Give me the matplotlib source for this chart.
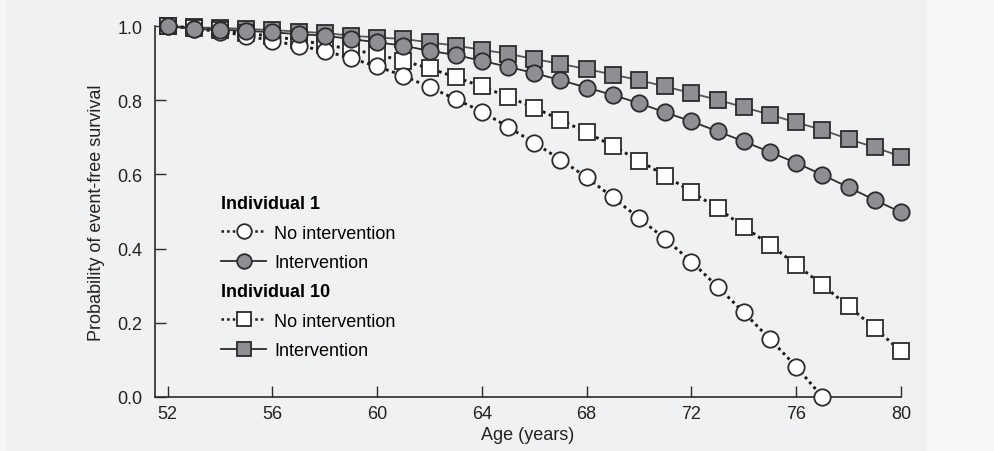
import matplotlib.pyplot as plt
from matplotlib.lines import Line2D
from matplotlib.patches import Rectangle

plt.rcParams['font.family'] = ['Liberation Sans', 'DejaVu Sans']

age = list(range(52, 81))

# Individual 1
ind1_none = [1.0, 0.993, 0.985, 0.974, 0.960, 0.947, 0.933, 0.913, 0.891, 0.866,
             0.835, 0.803, 0.769, 0.728, 0.685, 0.640, 0.592, 0.538, 0.482, 0.426,
             0.365, 0.297, 0.228, 0.156, 0.082, 0.0]
ind1_int = [1.0, 0.992, 0.990, 0.987, 0.983, 0.978, 0.974, 0.965, 0.956, 0.947,
            0.933, 0.922, 0.906, 0.890, 0.873, 0.854, 0.834, 0.814, 0.792, 0.767,
            0.743, 0.716, 0.689, 0.660, 0.631, 0.599, 0.565, 0.531, 0.498]
# Individual 10
ind10_none = [1.0, 0.995, 0.988, 0.981, 0.972, 0.962, 0.950, 0.937, 0.923, 0.906,
              0.886, 0.862, 0.837, 0.809, 0.780, 0.747, 0.713, 0.677, 0.637, 0.597,
              0.553, 0.509, 0.459, 0.410, 0.357, 0.302, 0.244, 0.186, 0.123]
ind10_int = [1.0, 0.996, 0.995, 0.992, 0.989, 0.985, 0.981, 0.974, 0.969, 0.965,
             0.956, 0.947, 0.936, 0.925, 0.911, 0.898, 0.884, 0.869, 0.854, 0.837,
             0.819, 0.801, 0.781, 0.761, 0.740, 0.720, 0.695, 0.673, 0.648]

xticks = [52, 56, 60, 64, 68, 72, 76, 80]
yticks = [0.0, 0.2, 0.4, 0.6, 0.8, 1.0]

outer = '#f6f6f7'
panel = '#f0f1f3'
grey = '#8e8f93'
edge = '#2b2b2b'
ms = 11.8

fig = plt.figure(figsize=(9.94, 4.52), dpi=100, facecolor=outer)
fig.patches.append(Rectangle((6 / 994, 0), 921 / 994, 1, transform=fig.transFigure,
                             facecolor=panel, edgecolor='none', zorder=-10))
ax = fig.add_axes([155 / 994, 1 - 398 / 452, 746 / 994, 371 / 452])
ax.set_facecolor('none')

dotted = (0, (1, 1.25))
none_style = dict(color='#1a1a1a', lw=2.1, linestyle=dotted, mfc='white',
                  mec=edge, mew=1.3, ms=ms)
int_style = dict(lw=1.3, linestyle='-', mfc=grey, mec=edge, mew=1.3, ms=ms)

ax.plot(age, ind10_int, marker='s', color='#555555', zorder=3, clip_on=False, **int_style)
ax.plot(age, ind10_none, marker='s', zorder=4, clip_on=False, **none_style)
ax.plot(age[:len(ind1_none)], ind1_none, marker='o', zorder=5, clip_on=False, **none_style)
ax.plot(age, ind1_int, marker='o', color='#2e2e2e', zorder=6, clip_on=False, **int_style)

ax.set_xlim(51.52, 80)
ax.set_ylim(0, 1.0)
ax.set_xticks(xticks)
ax.set_yticks(yticks)
ax.set_yticklabels([f'{v:.1f}' for v in yticks])
for s in ['top', 'right']:
    ax.spines[s].set_visible(False)
for s in ['left', 'bottom']:
    ax.spines[s].set_color('#2b2b2b')
    ax.spines[s].set_linewidth(1.2)
ax.tick_params(direction='in', length=8, width=1.0, color='#2b2b2b',
               labelsize=13, labelcolor='#222222')
ax.tick_params(axis='y', pad=9)
ax.tick_params(axis='x', pad=6)
ax.set_xlabel('Age (years)', fontsize=13, color='#222222', labelpad=3)
ax.set_ylabel('Probability of event-free survival', fontsize=13,
              color='#222222', labelpad=9)


def handles(marker):
    h1 = Line2D([], [], marker=marker, **dict(none_style, lw=1.8, ms=10.5))
    h2 = Line2D([], [], marker=marker, color='#2e2e2e', **dict(int_style, ms=10.5))
    return [h1, h2]


leg_kw = dict(frameon=False, fontsize=13, handlelength=2.5, handletextpad=0.45,
              labelspacing=0.7, borderpad=0, borderaxespad=0, alignment='left',
              title_fontproperties={'weight': 'bold', 'size': 13},
              loc='upper left', bbox_transform=fig.transFigure)
leg1 = ax.legend(handles('o'), ['No intervention', 'Intervention'],
                 title='Individual 1', bbox_to_anchor=(221 / 994, 1 - 196 / 452), **leg_kw)
ax.add_artist(leg1)
ax.legend(handles('s'), ['No intervention', 'Intervention'],
          title='Individual 10', bbox_to_anchor=(221 / 994, 1 - 284 / 452), **leg_kw)

fig.savefig('out.png', dpi=100, facecolor=outer)
